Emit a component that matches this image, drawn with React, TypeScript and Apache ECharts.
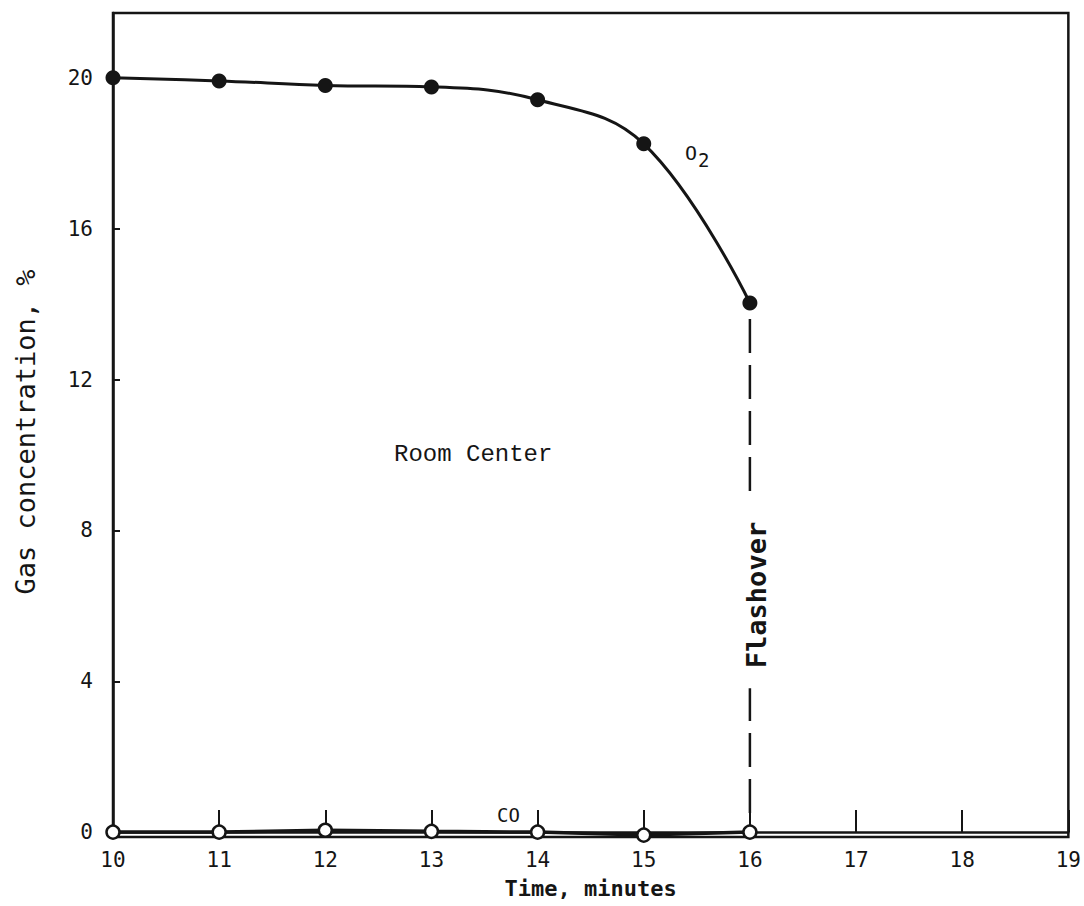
import React, { useEffect, useRef } from "react";
import * as echarts from "echarts";

const times = [10, 11, 12, 13, 14, 15, 16];
const o2Values = [20.0, 19.92, 19.8, 19.76, 19.42, 18.25, 14.03];
const coValues = [0.0, 0.0, 0.05, 0.02, 0.0, -0.08, 0.0];
const yTickValues = [0, 4, 8, 12, 16, 20];
const flashoverTime = 16;

const INK = "#151515";
const MONO = "'DejaVu Sans Mono', 'Liberation Mono', monospace";

export default function App() {
  const ref = useRef<HTMLDivElement>(null);
  useEffect(() => {
    if (!ref.current) return;
    const chart = echarts.init(ref.current, null, { renderer: "svg" });
    const o2Data = times.map((t, i) => [t, o2Values[i]]);
    const coData = times.map((t, i) => [t, coValues[i]]);
    const flashIdx = times.indexOf(flashoverTime);
    chart.setOption({
      animation: false,
      backgroundColor: "#ffffff",
      grid: {
        left: 113,
        right: 6,
        top: 13,
        bottom: 69,
        show: true,
        borderColor: INK,
        borderWidth: 2.5,
      },
      xAxis: {
        type: "value",
        min: 10,
        max: 19,
        interval: 1,
        name: "Time, minutes",
        nameLocation: "middle",
        nameGap: 40,
        nameTextStyle: { color: INK, fontFamily: MONO, fontSize: 22, fontWeight: "bold" },
        axisLine: { show: true, lineStyle: { color: INK, width: 2.5 } },
        axisTick: { show: true, inside: true, length: 22, lineStyle: { color: INK, width: 2 } },
        axisLabel: { color: INK, fontFamily: MONO, fontSize: 21, margin: 12 },
        splitLine: { show: false },
      },
      yAxis: {
        type: "value",
        min: -0.13,
        max: 21.72,
        name: "Gas concentration, %",
        nameLocation: "middle",
        nameGap: 74,
        nameTextStyle: { color: INK, fontFamily: MONO, fontSize: 27, padding: [0, 14, 0, 0] },
        axisLine: { show: true, lineStyle: { color: INK, width: 2.5 } },
        axisTick: {
          show: true,
          inside: true,
          length: 7,
          customValues: yTickValues,
          lineStyle: { color: INK, width: 2 },
        },
        axisLabel: {
          color: INK,
          fontFamily: MONO,
          fontSize: 21,
          margin: 20,
          customValues: yTickValues,
        },
        splitLine: { show: false },
      },
      series: [
        {
          type: "line",
          data: [
            [flashoverTime, o2Values[flashIdx]],
            [flashoverTime, 0],
          ],
          symbol: "none",
          clip: false,
          lineStyle: { color: INK, width: 2.5, type: [34, 12], dashOffset: 30 },
          z: 1,
        },
        {
          type: "line",
          name: "O2",
          data: o2Data,
          smooth: 0.4,
          symbol: "circle",
          symbolSize: 15,
          clip: false,
          itemStyle: { color: INK, borderWidth: 0 },
          lineStyle: { color: INK, width: 3 },
          z: 3,
        },
        {
          type: "line",
          name: "CO",
          data: coData,
          symbol: "circle",
          symbolSize: 13,
          clip: false,
          itemStyle: { color: "#ffffff", borderColor: INK, borderWidth: 2.5 },
          lineStyle: { color: INK, width: 3.5 },
          z: 4,
        },
      ],
      graphic: [
        {
          type: "text",
          left: 394,
          top: 442,
          style: {
            text: "Room Center",
            font: "24px 'Liberation Mono', monospace",
            fill: INK,
          },
        },
        {
          type: "text",
          left: 685,
          top: 143,
          style: {
            text: "{o|O}{s|2}",
            fill: INK,
            rich: {
              o: { fontFamily: MONO, fontSize: 20, fill: INK },
              s: { fontFamily: MONO, fontSize: 19, fill: INK, padding: [14, 0, 0, 1] },
            },
          },
        },
        {
          type: "text",
          left: 497,
          top: 805,
          style: { text: "CO", font: "19px " + MONO, fill: INK },
        },
        {
          type: "text",
          x: 756,
          y: 595,
          rotation: Math.PI / 2,
          style: {
            text: "Flashover",
            font: "bold 27px " + MONO,
            fill: INK,
            align: "center",
            verticalAlign: "middle",
            backgroundColor: "#ffffff",
            padding: [4, 20, 4, 20],
          },
          z: 10,
        },
      ],
    });
    return () => chart.dispose();
  }, []);
  return (
    <div
      ref={ref}
      style={{ position: "fixed", left: 0, top: 0, width: 1084, height: 906, background: "#fff" }}
    />
  );
}
